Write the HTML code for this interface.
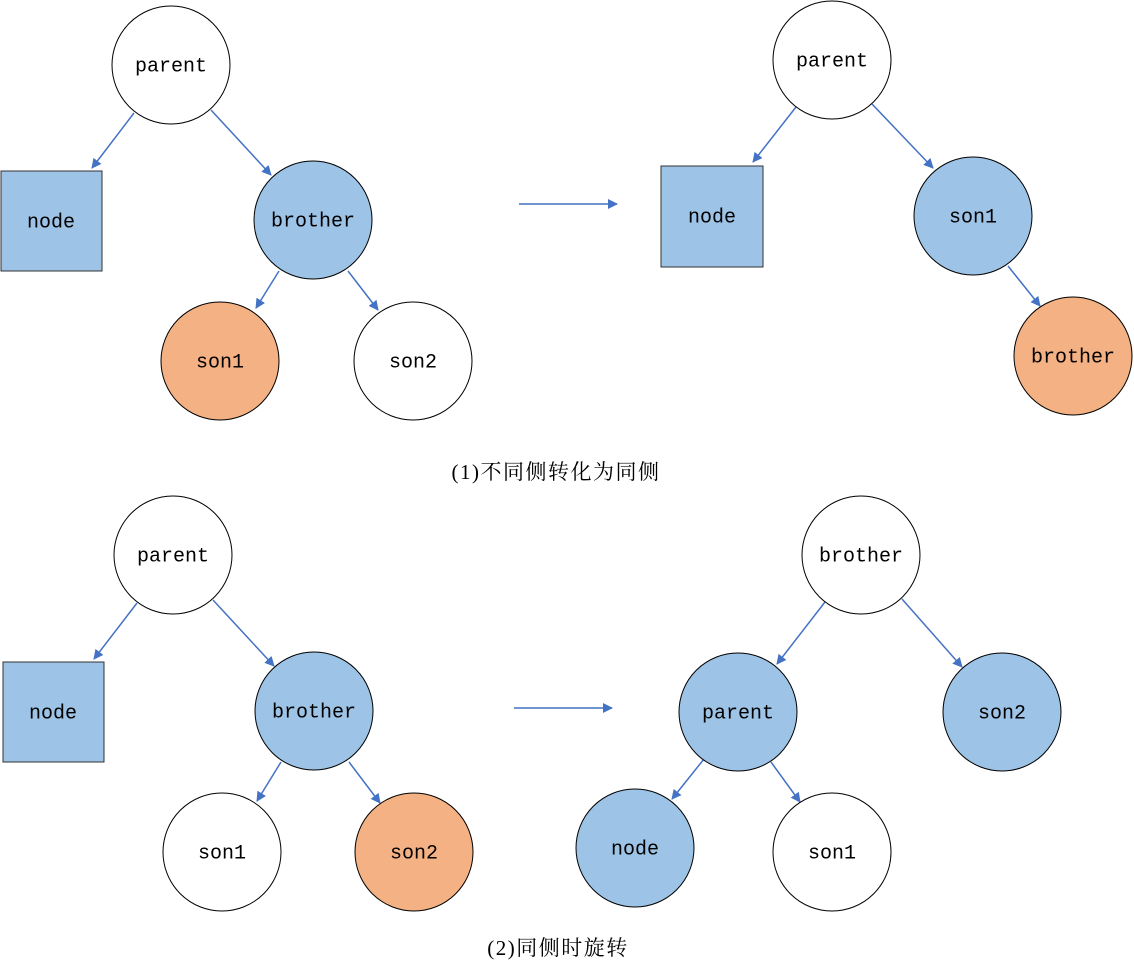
<!DOCTYPE html>
<html><head><meta charset="utf-8"><style>
html,body{margin:0;padding:0;background:#fff;}
svg text.n{font-family:"Liberation Mono",monospace;font-size:20px;text-anchor:middle;dominant-baseline:central;fill:#000;}
svg text.c{font-family:"Liberation Serif","Noto Serif CJK SC",serif;font-size:21px;letter-spacing:1.5px;text-anchor:middle;dominant-baseline:central;fill:#000;}
</style></head><body>
<svg width="1134" height="973" viewBox="0 0 1134 973" xmlns="http://www.w3.org/2000/svg">
<defs><marker id="a" markerWidth="10" markerHeight="10" refX="9" refY="5" orient="auto" markerUnits="userSpaceOnUse"><path d="M0,0 L10,5 L0,10 z" fill="#4472C4"/></marker></defs>
<g stroke="#4472C4" stroke-width="1.5" marker-end="url(#a)">
<line x1="134" y1="113" x2="92" y2="168"/>
<line x1="211" y1="110" x2="271" y2="175"/>
<line x1="279" y1="271" x2="256" y2="308"/>
<line x1="348" y1="271" x2="378" y2="310"/>
<line x1="519" y1="204" x2="617" y2="204"/>
<line x1="796" y1="107" x2="753" y2="162"/>
<line x1="872" y1="104" x2="933" y2="168"/>
<line x1="1008" y1="266" x2="1040" y2="306"/>
<line x1="137" y1="603" x2="94" y2="659"/>
<line x1="213" y1="600" x2="274" y2="666"/>
<line x1="281" y1="762" x2="257" y2="801"/>
<line x1="349" y1="762" x2="380" y2="803"/>
<line x1="514" y1="708" x2="612" y2="708"/>
<line x1="825" y1="602" x2="777" y2="664"/>
<line x1="902" y1="599" x2="962" y2="667"/>
<line x1="704" y1="759" x2="672" y2="799"/>
<line x1="771" y1="762" x2="800" y2="802"/>
</g>
<g stroke="#000" stroke-width="1">
<circle cx="171" cy="65" r="59" fill="#fff"/>
<rect x="1" y="171" width="101" height="100" fill="#9DC3E6" stroke="#333"/>
<circle cx="313" cy="220" r="59" fill="#9DC3E6"/>
<circle cx="220" cy="361" r="59" fill="#F4B183"/>
<circle cx="413" cy="361" r="59" fill="#fff"/>
<circle cx="832" cy="60" r="59" fill="#fff"/>
<rect x="661" y="166" width="102" height="101" fill="#9DC3E6" stroke="#333"/>
<circle cx="973" cy="216" r="59" fill="#9DC3E6"/>
<circle cx="1073" cy="356" r="59" fill="#F4B183"/>
<circle cx="173" cy="555" r="59" fill="#fff"/>
<rect x="3" y="662" width="101" height="100" fill="#9DC3E6" stroke="#333"/>
<circle cx="314" cy="711" r="59" fill="#9DC3E6"/>
<circle cx="222" cy="852" r="59" fill="#fff"/>
<circle cx="414" cy="852" r="59" fill="#F4B183"/>
<circle cx="861" cy="555" r="59" fill="#fff"/>
<circle cx="738" cy="712" r="59" fill="#9DC3E6"/>
<circle cx="1002" cy="712" r="59" fill="#9DC3E6"/>
<circle cx="635" cy="848" r="59" fill="#9DC3E6"/>
<circle cx="832" cy="852" r="59" fill="#fff"/>
</g>
<g transform="translate(0,2)">
<text class="n" x="171" y="65">parent</text>
<text class="n" x="51" y="221">node</text>
<text class="n" x="313" y="220">brother</text>
<text class="n" x="220" y="361">son1</text>
<text class="n" x="413" y="361">son2</text>
<text class="n" x="832" y="60">parent</text>
<text class="n" x="712" y="216">node</text>
<text class="n" x="973" y="216">son1</text>
<text class="n" x="1073" y="356">brother</text>
<text class="n" x="173" y="555">parent</text>
<text class="n" x="53" y="712">node</text>
<text class="n" x="314" y="711">brother</text>
<text class="n" x="222" y="852">son1</text>
<text class="n" x="414" y="852">son2</text>
<text class="n" x="861" y="555">brother</text>
<text class="n" x="738" y="712">parent</text>
<text class="n" x="1002" y="712">son2</text>
<text class="n" x="635" y="848">node</text>
<text class="n" x="832" y="852">son1</text>
</g>
<text class="c" x="556" y="472">(1)不同侧转化为同侧</text>
<text class="c" x="558" y="948">(2)同侧时旋转</text>
</svg>
</body></html>
